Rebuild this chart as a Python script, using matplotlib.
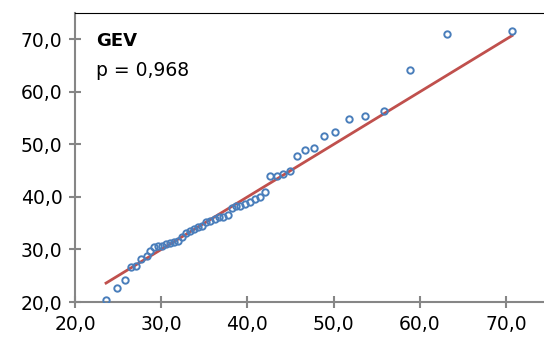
import numpy as np
import matplotlib.pyplot as plt

# GEV quantile-quantile data: theoretical (x) vs observed (y)
theoretical = [23.6, 24.9, 25.8, 26.5, 27.1, 27.7, 28.3, 28.7, 29.2, 29.6,
               30.1, 30.6, 31.0, 31.5, 31.9, 32.4, 32.9, 33.3, 33.8, 34.3,
               34.7, 35.2, 35.7, 36.2, 36.7, 37.2, 37.7, 38.2, 38.7, 39.1,
               39.7, 40.3, 40.9, 41.5, 42.0, 42.6, 43.4, 44.1, 44.9, 45.8,
               46.7, 47.7, 48.9, 50.2, 51.8, 53.6, 55.8, 58.8, 63.1, 70.7]
observed = [20.4, 22.7, 24.1, 26.6, 26.9, 28.2, 28.8, 29.8, 30.4, 30.6,
            30.7, 31.1, 31.3, 31.5, 31.7, 32.3, 33.1, 33.6, 33.8, 34.2,
            34.5, 35.2, 35.5, 35.8, 36.1, 36.2, 36.5, 37.8, 38.2, 38.3,
            38.6, 39.1, 39.6, 39.9, 40.9, 43.9, 44.0, 44.4, 45.0, 47.8,
            49.0, 49.3, 51.6, 52.3, 54.8, 55.4, 56.3, 64.1, 71.0, 71.6]
model_name = "GEV"
p_value = "0,968"
ticks = [20, 30, 40, 50, 60, 70]

x = np.array(theoretical)
y = np.array(observed)

plt.rcParams['font.family'] = 'DejaVu Sans'
fig = plt.figure(figsize=(5.44, 3.45), dpi=100)
ax = fig.add_axes([75 / 544, 1 - 302 / 345, 469 / 544, 289 / 345])

ax.plot([x.min(), x.max()], [x.min(), x.max()], color='#C0504D', lw=2, zorder=2)
ax.plot(x, y, 'o', ms=4.6, mfc='none', mec='#4A7EBB', mew=1.4, zorder=3)

ax.set_xlim(20, 74.4)
ax.set_ylim(20, 75)
ax.set_xticks(ticks)
ax.set_yticks(ticks)
fmt = lambda v: f"{v:.1f}".replace('.', ',')
ax.set_xticklabels([fmt(t) for t in ticks])
ax.set_yticklabels([fmt(t) for t in ticks])

gray = '#868686'
for side in ['left', 'bottom']:
    ax.spines[side].set_color(gray)
    ax.spines[side].set_linewidth(1.5)
ax.spines['right'].set_visible(False)
ax.spines['top'].set_color('black')
ax.spines['top'].set_linewidth(0.8)
ax.tick_params(direction='inout', length=8, width=1.5, color=gray,
               labelsize=13.5, labelcolor='black', pad=5)

ax.text(0.045, 0.935, model_name, transform=ax.transAxes, fontsize=13,
        fontweight='bold', va='top', ha='left')
ax.text(0.045, 0.835, f"p = {p_value}", transform=ax.transAxes, fontsize=13.5,
        va='top', ha='left')

fig.savefig('out.png', dpi=100)
